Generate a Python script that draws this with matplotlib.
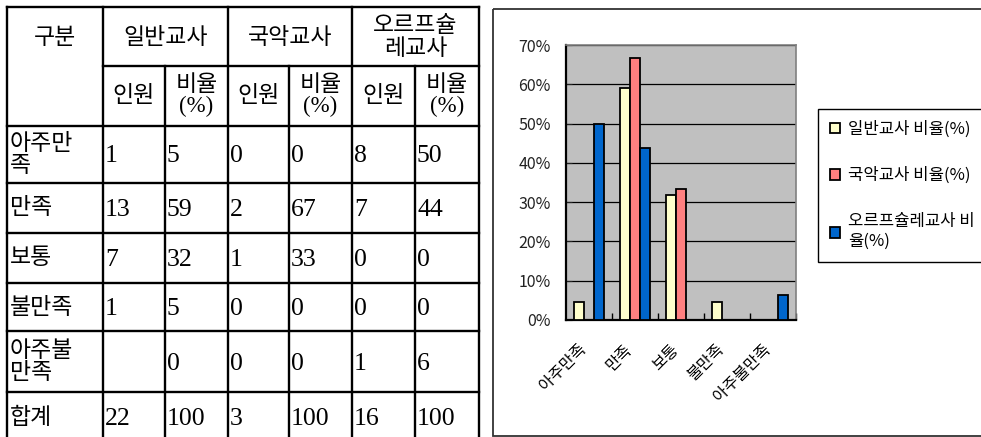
# 만족도 조사: 표 + 막대그래프
import numpy as np
import matplotlib
matplotlib.use('Agg')
import matplotlib.pyplot as plt
import matplotlib.ticker as mticker
from matplotlib.transforms import ScaledTranslation

plt.rcParams['font.family'] = ['Noto Sans CJK KR', 'DejaVu Sans']
serif = ['Liberation Serif', 'Noto Sans CJK KR']

# 표 데이터
row_labels = ['아주만\n족', '만족', '보통', '불만족', '아주불\n만족', '합계']
general_n = [1, 13, 7, 1, '', 22]
general_pct = [5, 59, 32, 5, 0, 100]
gugak_n = [0, 2, 1, 0, 0, 3]
gugak_pct = [0, 67, 33, 0, 0, 100]
orff_n = [8, 7, 0, 0, 1, 16]
orff_pct = [50, 44, 0, 0, 6, 100]
groups = ['일반교사', '국악교사', '오르프슐\n레교사']

# 그래프 데이터 (비율 %)
categories = ['아주만족', '만족', '보통', '불만족', '아주불만족']
general_ratio = [4.5, 59.1, 31.8, 4.5, 0]
gugak_ratio = [0, 66.7, 33.3, 0, 0]
orff_ratio = [50.0, 43.8, 0, 0, 6.3]
series_names = ['일반교사 비율(%)', '국악교사 비율(%)', '오르프슐레교사 비\n율(%)']
colors = ['#FFFFCC', '#FF8080', '#0066CC']

W, H = 981, 437
fig = plt.figure(figsize=(W / 100, H / 100), dpi=100)

# ---- 표 (픽셀 좌표) ----
tax = fig.add_axes([0, 0, 1, 1])
tax.set_xlim(0, W)
tax.set_ylim(H, 0)
tax.axis('off')

col_x = [7, 103, 165, 228, 289, 352, 415, 479]
row_y = [7, 66, 126, 183, 233, 283, 331, 392, 460]
lw = 1.7
for y in [7, 126, 183, 233, 283, 331, 392]:
    tax.plot([col_x[0], col_x[-1]], [y, y], color='black', lw=lw, solid_capstyle='projecting')
tax.plot([col_x[1], col_x[-1]], [66, 66], color='black', lw=lw)
for x in [7, 103, 228, 352, 479]:
    tax.plot([x, x], [7, 460], color='black', lw=lw)
for x in [165, 289, 415]:
    tax.plot([x, x], [66, 460], color='black', lw=lw)

kfs = 16.5
nfs = 18.5
tax.text(55, 37, '구분', ha='center', va='center', fontsize=kfs)
for i, g in enumerate(groups):
    cx = (col_x[1 + 2 * i] + col_x[3 + 2 * i]) / 2
    tax.text(cx, 37, g, ha='center', va='center', fontsize=kfs, linespacing=0.95)
    tax.text((col_x[1 + 2 * i] + col_x[2 + 2 * i]) / 2, 96, '인원',
             ha='center', va='center', fontsize=kfs)
    tax.text((col_x[2 + 2 * i] + col_x[3 + 2 * i]) / 2, 96, '비율\n(%)',
             ha='center', va='center', fontsize=kfs, linespacing=0.95, family=serif)

cols = [general_n, general_pct, gugak_n, gugak_pct, orff_n, orff_pct]
for r, lab in enumerate(row_labels):
    yc = (row_y[r + 2] + row_y[r + 3]) / 2
    if r == len(row_labels) - 1:
        yc = 417
    tax.text(10, yc, lab, ha='left', va='center', fontsize=kfs, linespacing=0.95)
    for c, vals in enumerate(cols):
        tax.text(col_x[c + 1] + 2, yc + 2, str(vals[r]), ha='left', va='center',
                 fontsize=nfs, family=serif)

# 그래프 테두리
tax.add_patch(plt.Rectangle((493, 9), 600, 427, fill=False, ec='#333333', lw=1.3))

# ---- 막대그래프 ----
ax = fig.add_axes([566 / W, 1 - 320 / H, 230 / W, 275 / H])
ax.set_facecolor('#C0C0C0')
x = np.arange(len(categories))
w = 10 / 46
bars = []
for k, (vals, col) in enumerate(zip([general_ratio, gugak_ratio, orff_ratio], colors)):
    b = ax.bar(x + (k - 1) * w, vals, w, color=col, edgecolor='black', lw=1.3,
               label=series_names[k], zorder=3)
    bars.append(b)

ax.set_xlim(-0.5, 4.5)
ax.set_ylim(0, 70)
ax.set_yticks(np.arange(0, 71, 10))
ax.yaxis.set_major_formatter(mticker.FormatStrFormatter('%d%%'))
ax.yaxis.grid(True, color='black', lw=0.9, zorder=1)
ax.set_axisbelow(True)
ax.tick_params(axis='y', direction='in', length=4, pad=11, labelsize=11.5, colors='#222222')

ax.set_xticks(x)
ax.set_xticklabels(categories, rotation=45, ha='right', rotation_mode='anchor', fontsize=11.5)
ax.set_xticks(np.arange(0.5, 4.6, 1), minor=True)
ax.tick_params(axis='x', which='major', length=0, pad=15)
ax.tick_params(axis='x', which='minor', direction='in', length=5, width=1)
off = ScaledTranslation(-11 / 100, 0, fig.dpi_scale_trans)
for t in ax.get_xticklabels():
    t.set_transform(t.get_transform() + off)

for s in ['left', 'bottom']:
    ax.spines[s].set_color('black')
    ax.spines[s].set_linewidth(1.6)
for s in ['top', 'right']:
    ax.spines[s].set_color('#808080')
    ax.spines[s].set_linewidth(1.2)

leg = ax.legend(loc='upper left', bbox_to_anchor=(818 / W, 1 - 109 / H),
                bbox_transform=fig.transFigure, fontsize=12, frameon=True,
                fancybox=False, framealpha=1, edgecolor='black', labelspacing=1.75,
                handlelength=0.6, handleheight=0.6, handletextpad=0.5,
                borderpad=0.7, borderaxespad=0)
leg.get_frame().set_linewidth(1.0)

fig.savefig('out.png', dpi=100)
